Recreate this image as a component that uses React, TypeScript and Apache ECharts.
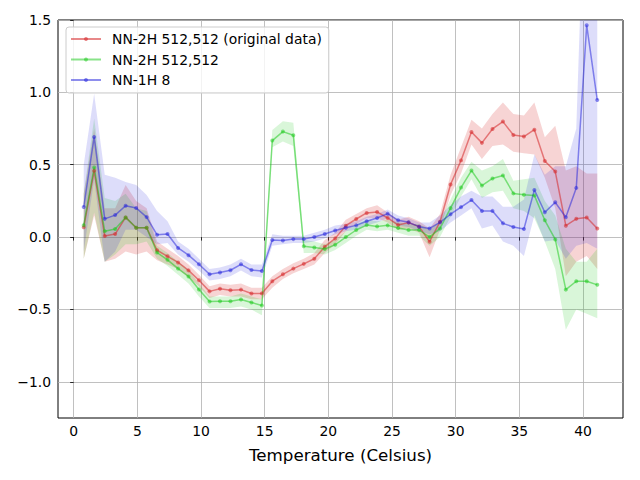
import React, { useEffect, useRef } from "react";
import * as echarts from "echarts";

const temps = [0.79, 1.61, 2.44, 3.26, 4.08, 4.91, 5.73, 6.55, 7.37, 8.2, 9.02, 9.84, 10.67, 11.49, 12.31, 13.14, 13.96, 14.78, 15.6, 16.43, 17.25, 18.07, 18.9, 19.72, 20.54, 21.37, 22.19, 23.01, 23.83, 24.66, 25.48, 26.3, 27.13, 27.95, 28.77, 29.6, 30.42, 31.24, 32.06, 32.89, 33.71, 34.53, 35.36, 36.18, 37.0, 37.82, 38.65, 39.47, 40.29, 41.12];

const redMean = [0.068, 0.458, 0.007, 0.021, 0.136, 0.065, 0.065, -0.091, -0.133, -0.175, -0.23, -0.298, -0.375, -0.357, -0.368, -0.363, -0.39, -0.389, -0.305, -0.257, -0.218, -0.185, -0.15, -0.067, -0.009, 0.079, 0.125, 0.167, 0.174, 0.132, 0.083, 0.1, 0.072, -0.032, 0.106, 0.363, 0.53, 0.726, 0.651, 0.747, 0.798, 0.705, 0.695, 0.742, 0.526, 0.453, 0.079, 0.126, 0.135, 0.06];
const redLow = [-0.15, 0.15, -0.17, -0.15, -0.1, -0.12, -0.1, -0.16, -0.19, -0.22, -0.28, -0.34, -0.42, -0.4, -0.41, -0.41, -0.43, -0.43, -0.35, -0.29, -0.25, -0.22, -0.19, -0.11, -0.05, 0.04, 0.09, 0.13, 0.13, 0.1, 0.05, 0.06, 0.03, -0.14, 0.05, 0.29, 0.44, 0.64, 0.54, 0.63, 0.64, 0.59, 0.58, 0.57, 0.41, 0.2, -0.27, -0.17, -0.13, -0.22];
const redHigh = [0.3, 0.75, 0.2, 0.2, 0.36, 0.25, 0.2, -0.03, -0.08, -0.13, -0.19, -0.26, -0.34, -0.32, -0.33, -0.32, -0.35, -0.35, -0.27, -0.22, -0.18, -0.15, -0.11, -0.02, 0.03, 0.12, 0.16, 0.2, 0.22, 0.17, 0.12, 0.14, 0.11, 0.06, 0.16, 0.43, 0.62, 0.81, 0.75, 0.85, 0.93, 0.85, 0.84, 0.93, 0.69, 0.77, 0.46, 0.49, 0.44, 0.44];

const greenMean = [0.082, 0.481, 0.04, 0.056, 0.136, 0.065, 0.065, -0.107, -0.157, -0.218, -0.272, -0.362, -0.445, -0.444, -0.444, -0.431, -0.452, -0.473, 0.667, 0.729, 0.704, -0.063, -0.072, -0.083, -0.053, 0.0, 0.049, 0.083, 0.074, 0.081, 0.063, 0.049, 0.049, 0.0, 0.06, 0.2, 0.342, 0.46, 0.356, 0.405, 0.426, 0.302, 0.293, 0.288, 0.116, -0.016, -0.363, -0.305, -0.305, -0.33];
const greenLow = [-0.15, 0.17, -0.17, -0.12, -0.05, -0.05, -0.03, -0.15, -0.2, -0.26, -0.32, -0.41, -0.49, -0.49, -0.49, -0.48, -0.5, -0.54, 0.62, 0.66, 0.63, -0.11, -0.11, -0.12, -0.09, -0.04, 0.01, 0.05, 0.04, 0.05, 0.03, 0.01, 0.01, -0.06, 0.0, 0.14, 0.28, 0.4, 0.27, 0.31, 0.32, 0.2, 0.18, 0.13, -0.03, -0.22, -0.64, -0.5, -0.53, -0.56];
const greenHigh = [0.3, 0.82, 0.27, 0.25, 0.3, 0.2, 0.18, -0.06, -0.11, -0.17, -0.23, -0.32, -0.41, -0.41, -0.41, -0.39, -0.41, -0.43, 0.74, 0.8, 0.79, -0.02, -0.03, -0.05, -0.02, 0.04, 0.09, 0.12, 0.11, 0.12, 0.1, 0.09, 0.09, 0.05, 0.11, 0.26, 0.41, 0.52, 0.46, 0.49, 0.54, 0.39, 0.4, 0.41, 0.25, 0.15, -0.08, -0.17, -0.17, -0.08];

const blueMean = [0.208, 0.692, 0.126, 0.152, 0.217, 0.201, 0.138, 0.016, 0.021, -0.075, -0.125, -0.188, -0.257, -0.244, -0.229, -0.188, -0.228, -0.235, -0.02, -0.023, -0.014, -0.014, 0.0, 0.021, 0.046, 0.065, 0.081, 0.109, 0.132, 0.162, 0.116, 0.102, 0.072, 0.06, 0.102, 0.158, 0.207, 0.256, 0.181, 0.181, 0.095, 0.07, 0.056, 0.326, 0.172, 0.24, 0.137, 0.34, 1.463, 0.947];
const blueLow = [-0.1, 0.4, -0.17, -0.1, 0.05, 0.05, 0.0, -0.05, -0.04, -0.12, -0.17, -0.23, -0.3, -0.29, -0.27, -0.23, -0.27, -0.28, -0.06, -0.05, -0.04, -0.04, -0.03, -0.01, 0.02, 0.04, 0.05, 0.08, 0.1, 0.13, 0.08, 0.07, 0.04, 0.02, 0.04, 0.1, 0.15, 0.2, 0.06, 0.08, -0.03, -0.06, -0.13, 0.15, -0.03, -0.02, -0.15, -0.06, -0.04, -0.08];
const blueHigh = [0.5, 0.99, 0.43, 0.41, 0.38, 0.36, 0.29, 0.18, 0.11, -0.03, -0.08, -0.15, -0.22, -0.21, -0.19, -0.15, -0.19, -0.19, 0.02, 0.01, 0.01, 0.01, 0.03, 0.05, 0.08, 0.09, 0.11, 0.14, 0.16, 0.19, 0.15, 0.13, 0.1, 0.1, 0.15, 0.22, 0.28, 0.32, 0.28, 0.28, 0.21, 0.21, 0.26, 0.57, 0.43, 0.49, 0.49, 0.75, 2.9, 1.97];

const xTicks = [0, 5, 10, 15, 20, 25, 30, 35, 40];
const yTicks = [-1.0, -0.5, 0.0, 0.5, 1.0, 1.5];

const seriesNames = ["NN-2H 512,512 (original data)", "NN-2H 512,512", "NN-1H 8"];

const FONT = "DejaVu Sans";

const pair = (ys: number[]) => temps.map((t, i) => [t, ys[i]]);

function bandSeries(id: string, low: number[], high: number[], color: string) {
  return {
    type: "custom",
    name: id,
    coordinateSystem: "cartesian2d",
    clip: true,
    silent: true,
    z: 1,
    data: temps.map((t, i) => [t, low[i], high[i]]),
    encode: { x: 0, y: [1, 2] },
    renderItem: (params: any, api: any) => {
      if (params.dataIndex !== 0) return null;
      const upper = temps.map((t, i) => api.coord([t, high[i]]));
      const lower = temps.map((t, i) => api.coord([t, low[i]])).reverse();
      const cs = params.coordSys;
      return {
        type: "polygon",
        shape: { points: upper.concat(lower) },
        style: { fill: color, stroke: "none" },
        clipPath: { type: "rect", shape: { x: cs.x, y: cs.y, width: cs.width, height: cs.height } },
      };
    },
  };
}

function lineSeries(name: string, ys: number[], color: string) {
  return {
    type: "line",
    name,
    data: pair(ys),
    symbol: "circle",
    symbolSize: 4,
    showSymbol: true,
    lineStyle: { color, width: 1.5 },
    itemStyle: { color, borderWidth: 0 },
    z: 3,
  };
}

const RED = "rgba(214,39,40,0.55)";
const GREEN = "rgba(20,200,20,0.5)";
const BLUE = "rgba(30,30,220,0.5)";

export default function App() {
  const ref = useRef<HTMLDivElement>(null);
  useEffect(() => {
    if (!ref.current) return;
    const chart = echarts.init(ref.current, null, { renderer: "svg" });
    const fmtY = (v: number) => (v < 0 ? "\u2212" : "") + Math.abs(v).toFixed(1);
    chart.setOption({
      animation: false,
      backgroundColor: "#fff",
      textStyle: { fontFamily: FONT },
      grid: {
        left: 58,
        right: 17,
        top: 20,
        bottom: 62,
        show: true,
        borderColor: "#000",
        borderWidth: 1,
        backgroundColor: "transparent",
      },
      legend: {
        data: seriesNames,
        left: 66,
        top: 27,
        orient: "vertical",
        itemWidth: 30,
        itemHeight: 5,
        itemGap: 6.5,
        padding: [5, 7, 6, 4],
        backgroundColor: "rgba(255,255,255,0.8)",
        borderColor: "#cccccc",
        borderWidth: 1,
        borderRadius: 3,
        textStyle: { fontFamily: FONT, fontSize: 13.9, color: "#000", padding: [0, 0, 0, 6] },
        selectedMode: false,
      },
      xAxis: {
        type: "value",
        min: -1.23,
        max: 43.14,
        name: "Temperature (Celsius)",
        nameLocation: "middle",
        nameGap: 28,
        nameTextStyle: { fontFamily: FONT, fontSize: 16.7, color: "#000" },
        axisLine: { show: false },
        axisTick: { show: true, length: 3.5, inside: false, lineStyle: { color: "#000", width: 0.8 }, customValues: xTicks },
        axisLabel: {
          customValues: xTicks,
          margin: 6,
          fontFamily: FONT,
          fontSize: 13.9,
          color: "#000",
          formatter: (v: number) => String(v),
        },
        splitLine: { show: true, lineStyle: { color: "#b0b0b0", width: 0.8 } },
      },
      yAxis: {
        type: "value",
        min: -1.25,
        max: 1.5,
        axisLine: { show: false },
        axisTick: { show: true, length: 3.5, inside: false, lineStyle: { color: "#000", width: 0.8 }, customValues: yTicks },
        axisLabel: {
          customValues: yTicks,
          margin: 7,
          fontFamily: FONT,
          fontSize: 13.9,
          color: "#000",
          formatter: fmtY,
        },
        splitLine: { show: true, lineStyle: { color: "#b0b0b0", width: 0.8 } },
      },
      series: [
        bandSeries("bandR", redLow, redHigh, "rgba(214,39,40,0.2)"),
        bandSeries("bandG", greenLow, greenHigh, "rgba(20,200,20,0.16)"),
        bandSeries("bandB", blueLow, blueHigh, "rgba(30,30,220,0.15)"),
        lineSeries(seriesNames[0], redMean, RED),
        lineSeries(seriesNames[1], greenMean, GREEN),
        lineSeries(seriesNames[2], blueMean, BLUE),
      ],
    });
    return () => chart.dispose();
  }, []);
  return (
    <div
      ref={ref}
      style={{ position: "fixed", left: 0, top: 0, width: 640, height: 480, background: "#fff" }}
    />
  );
}
